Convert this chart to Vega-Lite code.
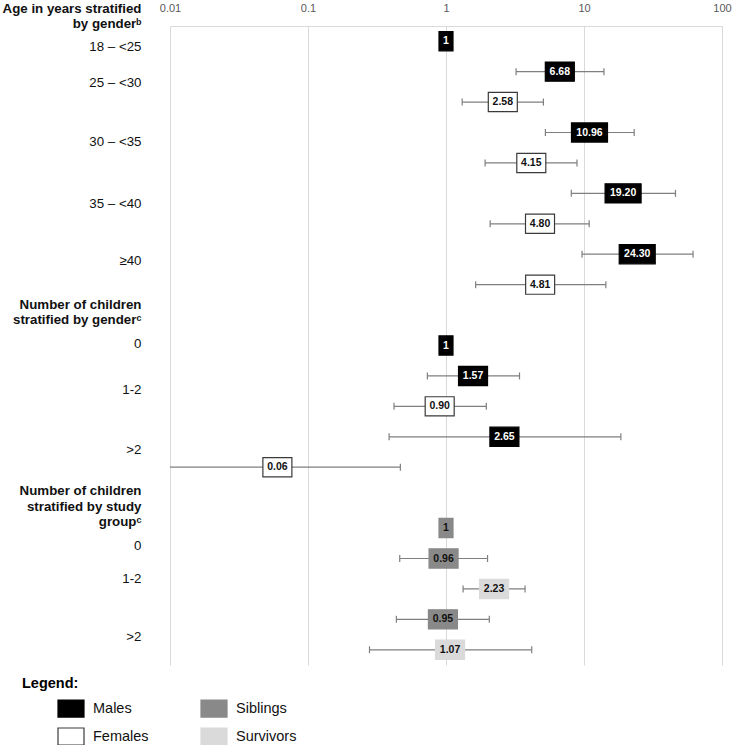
{
  "$schema": "https://vega.github.io/schema/vega-lite/v6.json",
  "width": 552,
  "height": 639,
  "autosize": {"type": "none"},
  "padding": {"left": 170, "top": 26, "right": 11, "bottom": 80},
  "background": "white",
  "config": {"view": {"stroke": null}, "font": "Liberation Sans"},
  "data": {
    "values": [
      {"row": 0, "group": "Males", "est": 1, "label": "1"},
      {"row": 1, "group": "Males", "est": 6.68, "lo": 3.22, "hi": 13.95, "label": "6.68"},
      {"row": 2, "group": "Females", "est": 2.58, "lo": 1.31, "hi": 5.08, "label": "2.58"},
      {"row": 3, "group": "Males", "est": 10.96, "lo": 5.25, "hi": 23.1, "label": "10.96"},
      {"row": 4, "group": "Females", "est": 4.15, "lo": 1.92, "hi": 8.9, "label": "4.15"},
      {"row": 5, "group": "Males", "est": 19.2, "lo": 8.09, "hi": 46.0, "label": "19.20"},
      {"row": 6, "group": "Females", "est": 4.8, "lo": 2.09, "hi": 10.9, "label": "4.80"},
      {"row": 7, "group": "Males", "est": 24.3, "lo": 9.68, "hi": 61.7, "label": "24.30"},
      {"row": 8, "group": "Females", "est": 4.81, "lo": 1.64, "hi": 14.4, "label": "4.81"},
      {"row": 10, "group": "Males", "est": 1, "label": "1"},
      {"row": 11, "group": "Males", "est": 1.57, "lo": 0.733, "hi": 3.41, "label": "1.57"},
      {"row": 12, "group": "Females", "est": 0.9, "lo": 0.42, "hi": 1.96, "label": "0.90"},
      {"row": 13, "group": "Males", "est": 2.65, "lo": 0.387, "hi": 18.5, "label": "2.65"},
      {"row": 14, "group": "Females", "est": 0.06, "lo": 0.004, "hi": 0.467, "label": "0.06"},
      {"row": 16, "group": "Siblings", "est": 1, "label": "1"},
      {"row": 17, "group": "Siblings", "est": 0.96, "lo": 0.462, "hi": 2.0, "label": "0.96"},
      {"row": 18, "group": "Survivors", "est": 2.23, "lo": 1.33, "hi": 3.74, "label": "2.23"},
      {"row": 19, "group": "Siblings", "est": 0.95, "lo": 0.437, "hi": 2.06, "label": "0.95"},
      {"row": 20, "group": "Survivors", "est": 1.07, "lo": 0.279, "hi": 4.18, "label": "1.07"}
    ]
  },
  "encoding": {
    "y": {
      "field": "row",
      "type": "quantitative",
      "scale": {"domain": [-0.5, 20.5], "reverse": true, "nice": false, "zero": false},
      "axis": {
        "orient": "left",
        "title": null,
        "grid": false,
        "ticks": false,
        "domain": false,
        "values": [-0.45, 0.16, 1.37, 3.31, 5.32, 7.22, 8.64, 9.92, 11.43, 13.43, 14.78, 16.56, 17.67, 19.55],
        "labelExpr": "datum.value == -0.45 ? ['Age in years stratified', 'by genderᵇ'] : datum.value == 0.16 ? '18 – <25' : datum.value == 1.37 ? '25 – <30' : datum.value == 3.31 ? '30 – <35' : datum.value == 5.32 ? '35 – <40' : datum.value == 7.22 ? '≥40' : datum.value == 8.64 ? ['Number of children', 'stratified by genderᶜ'] : datum.value == 9.92 ? '0' : datum.value == 11.43 ? '1-2' : datum.value == 13.43 ? '>2' : datum.value == 14.78 ? ['Number of children', 'stratified by study', 'groupᶜ'] : datum.value == 16.56 ? '0' : datum.value == 17.67 ? '1-2' : '>2'",
        "labelFont": "Liberation Sans",
        "labelFontSize": 13.3,
        "labelColor": "#111111",
        "labelAlign": "right",
        "labelBaseline": "middle",
        "labelPadding": 29,
        "labelLineHeight": 15.5,
        "labelOverlap": false,
        "labelBound": false,
        "labelFontWeight": {"condition": {"test": "datum.value == -0.45 || datum.value == 8.64 || datum.value == 14.78", "value": "bold"}, "value": "normal"},
        "labelOffset": {"condition": {"test": "datum.value == -0.45", "value": -19.5}, "value": 0}
      }
    }
  },
  "layer": [
    {
      "mark": {"type": "rule", "color": "#7f7f7f", "strokeWidth": 1.2, "clip": true},
      "encoding": {
        "x": {
          "field": "lo",
          "type": "quantitative",
          "scale": {"type": "log", "domain": [0.01, 100], "nice": false},
          "axis": {
            "orient": "top",
            "title": null,
            "values": [0.01, 0.1, 1, 10, 100],
            "format": "~g",
            "grid": true,
            "gridColor": "#d9d9d9",
            "gridWidth": 1,
            "ticks": false,
            "domain": true,
            "domainColor": "#d9d9d9",
            "domainWidth": 1,
            "labelFont": "Liberation Sans",
            "labelFontSize": 11,
            "labelColor": "#595959",
            "labelPadding": 13,
            "labelFlush": false,
            "labelOverlap": false
          }
        },
        "x2": {"field": "hi"}
      }
    },
    {
      "mark": {"type": "point", "shape": "M0,-1V1", "size": 49, "filled": false, "color": "#7f7f7f", "strokeWidth": 1.2, "opacity": 1, "clip": true},
      "encoding": {"x": {"field": "lo", "type": "quantitative", "title": null}}
    },
    {
      "mark": {"type": "point", "shape": "M0,-1V1", "size": 49, "filled": false, "color": "#7f7f7f", "strokeWidth": 1.2, "opacity": 1, "clip": true},
      "encoding": {"x": {"field": "hi", "type": "quantitative", "title": null}}
    },
    {
      "mark": {"type": "point", "filled": true, "size": 1600, "strokeWidth": 1.2, "opacity": 1},
      "encoding": {
        "x": {"field": "est", "type": "quantitative", "title": null},
        "shape": {
          "condition": [
            {"test": "length(datum.label) == 1", "value": "M-0.35,-0.48H0.35V0.48H-0.35Z"},
            {"test": "length(datum.label) >= 5", "value": "M-0.9,-0.48H0.9V0.48H-0.9Z"}
          ],
          "value": "M-0.725,-0.48H0.725V0.48H-0.725Z"
        },
        "fill": {
          "field": "group",
          "type": "nominal",
          "scale": {"domain": ["Males", "Females", "Siblings", "Survivors"], "range": ["#000000", "#ffffff", "#898989", "#dadada"]},
          "legend": {
            "title": "Legend:",
            "orient": "none",
            "legendX": -148,
            "legendY": 651,
            "columns": 2,
            "padding": 0,
            "titleFont": "Liberation Sans",
            "titleFontSize": 14.5,
            "titleFontWeight": "bold",
            "titleColor": "#000000",
            "titleAnchor": "start",
            "titleBaseline": "top",
            "titlePadding": 6,
            "labelFont": "Liberation Sans",
            "labelFontSize": 14.5,
            "labelColor": "#111111",
            "symbolType": "M-1.3,-0.85H1.3V0.85H-1.3Z",
            "symbolSize": 400,
            "symbolStrokeWidth": 1.2,
            "symbolOffset": 38,
            "labelOffset": 11,
            "columnPadding": 16,
            "rowPadding": 6,
            "encode": {"symbols": {"update": {"shape": {"value": "M-1.3,-0.85H1.3V0.85H-1.3Z"}, "size": {"value": 400}, "strokeWidth": {"value": 1.2}, "opacity": {"value": 1}}}}
          }
        },
        "stroke": {
          "field": "group",
          "type": "nominal",
          "scale": {"domain": ["Males", "Females", "Siblings", "Survivors"], "range": ["#000000", "#3a3a3a", "#898989", "#dadada"]},
          "legend": {
            "title": "Legend:",
            "orient": "none",
            "legendX": -148,
            "legendY": 651,
            "columns": 2,
            "padding": 0,
            "titleFont": "Liberation Sans",
            "titleFontSize": 14.5,
            "titleFontWeight": "bold",
            "titleColor": "#000000",
            "titleAnchor": "start",
            "titleBaseline": "top",
            "titlePadding": 6,
            "labelFont": "Liberation Sans",
            "labelFontSize": 14.5,
            "labelColor": "#111111",
            "symbolType": "M-1.3,-0.85H1.3V0.85H-1.3Z",
            "symbolSize": 400,
            "symbolStrokeWidth": 1.2,
            "symbolOffset": 38,
            "labelOffset": 11,
            "columnPadding": 16,
            "rowPadding": 6,
            "encode": {"symbols": {"update": {"shape": {"value": "M-1.3,-0.85H1.3V0.85H-1.3Z"}, "size": {"value": 400}, "strokeWidth": {"value": 1.2}, "opacity": {"value": 1}}}}
          }
        }
      }
    },
    {
      "mark": {"type": "text", "font": "Liberation Sans", "fontWeight": "bold", "fontSize": 10.5, "align": "center", "baseline": "middle"},
      "encoding": {
        "x": {"field": "est", "type": "quantitative", "title": null},
        "text": {"field": "label"},
        "color": {"condition": {"test": "datum.group == 'Males'", "value": "#ffffff"}, "value": "#111111"}
      }
    }
  ]
}
